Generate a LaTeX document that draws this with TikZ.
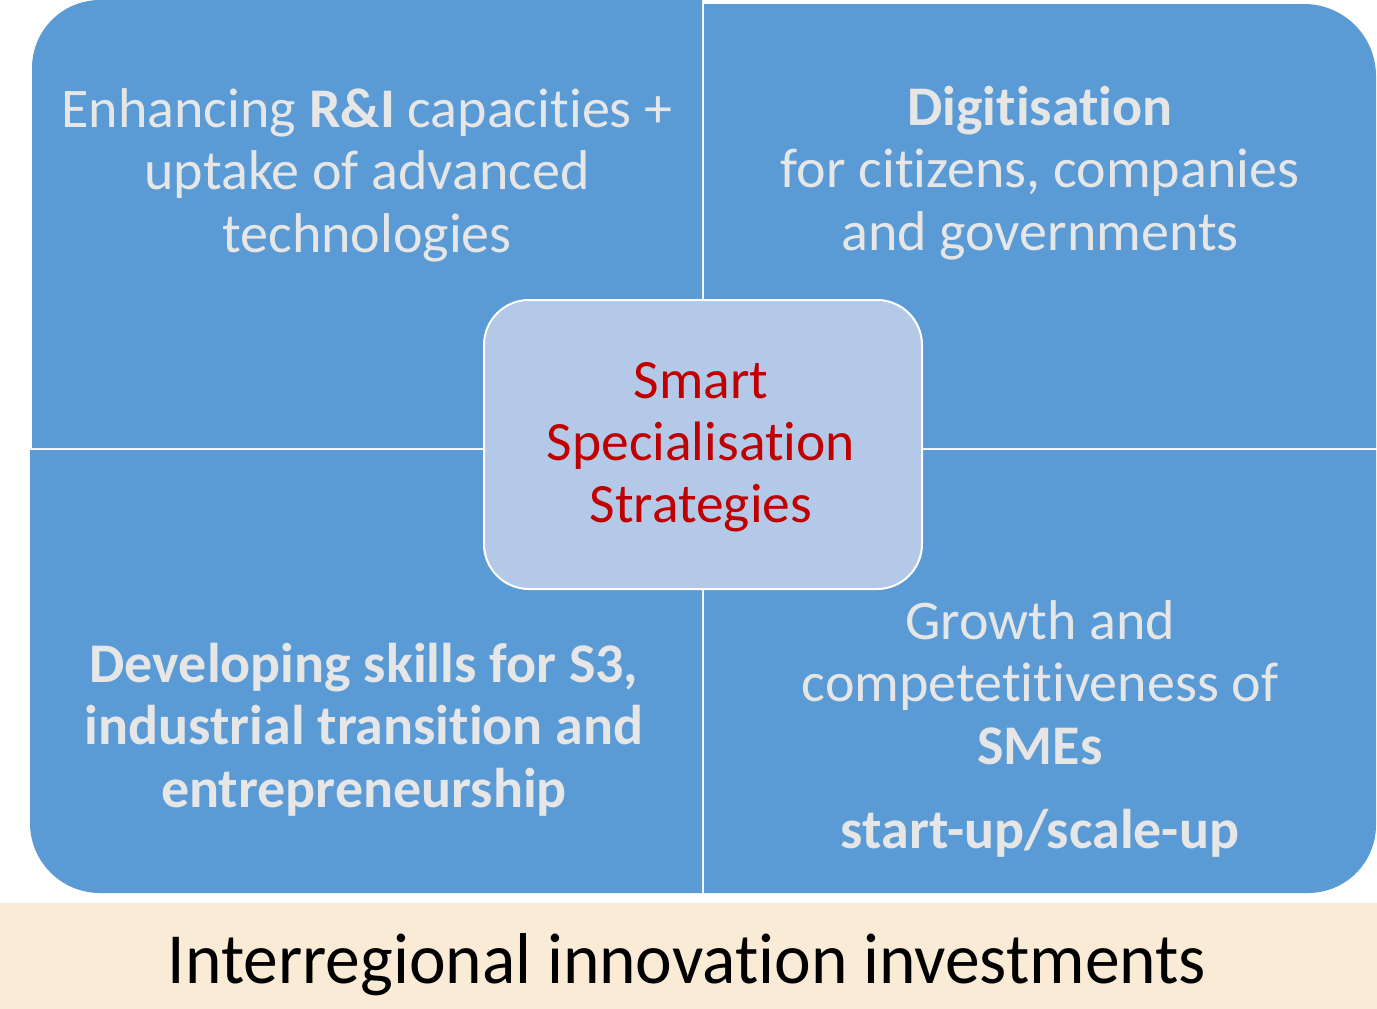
\documentclass[tikz,border=0pt]{standalone}
\usepackage{fontspec}
\setmainfont[Ligatures=NoCommon]{Carlito}
\definecolor{quadblue}{HTML}{5B9BD5}
\definecolor{centerfill}{HTML}{B4C9E7}
\definecolor{lighttext}{HTML}{E7E6E6}
\definecolor{darkred}{HTML}{C00000}
\definecolor{cream}{HTML}{F9EBD6}
\tikzset{
  quad/.style={fill=quadblue},
  quadtext/.style={text=lighttext, align=center, inner sep=0pt, anchor=base,
    font=\fontsize{56}{62.5}\selectfont},
  centerbox/.style={fill=centerfill, draw=white, line width=2pt, rounded corners=45pt,
    minimum width=438pt, minimum height=289pt, inner sep=0pt},
  centertext/.style={text=darkred, align=center, inner sep=0pt, anchor=base,
    font=\fontsize{55.5}{62}\selectfont},
  bandtext/.style={text=black, inner sep=0pt, anchor=base, xscale=0.965,
    font=\fontsize{72}{80}\selectfont}
}
\begin{document}
\begin{tikzpicture}[x=1pt,y=-1pt]
\useasboundingbox (0,0) rectangle (1377,1009);
\fill[white] (0,0) rectangle (1377,1009);
% quadrants
\fill[quad] (702,0) -- (100,0) .. controls (62.4,0) and (32,30.4) .. (32,68) -- (32,448) -- (702,448) -- cycle;
\fill[quad] (704,4) -- (1304,4) .. controls (1343.8,4) and (1376,36.2) .. (1376,76) -- (1376,448) -- (704,448) -- cycle;
\fill[quad] (702,450) -- (30,450) -- (30,823) .. controls (30,861.7) and (61.3,893) .. (100,893) -- (702,893) -- cycle;
\fill[quad] (704,450) -- (1376,450) -- (1376,825) .. controls (1376,862.6) and (1345.6,893) .. (1308,893) -- (704,893) -- cycle;
% band
\fill[cream] (0,903) rectangle (1377,1009);
% texts (anchor base = baseline of last line)
\node[quadtext] (tl) at (367,252) {Enhancing \textbf{R\&I} capacities +\\uptake of advanced\\technologies};
\node[quadtext] (tr) at (1040,250) {\textbf{Digitisation}\\for citizens, companies\\and governments};
\node[quadtext, font=\fontsize{56}{62.5}\selectfont\bfseries] (bl) at (364,807) {Developing skills for S3,\\industrial transition and\\entrepreneurship};
\node[quadtext] (br) at (1040,848) {Growth and\\competetitiveness of\\\textbf{SMEs}\\[21.5pt]\textbf{start-up/scale-up}};
\node[centerbox] (center) at (703,444.5) {};
\node[centertext] (ctext) at (701,522) {Smart\\Specialisation\\Strategies};
\node[bandtext] (band) at (687,983) {Interregional innovation investments};
\end{tikzpicture}
\end{document}
